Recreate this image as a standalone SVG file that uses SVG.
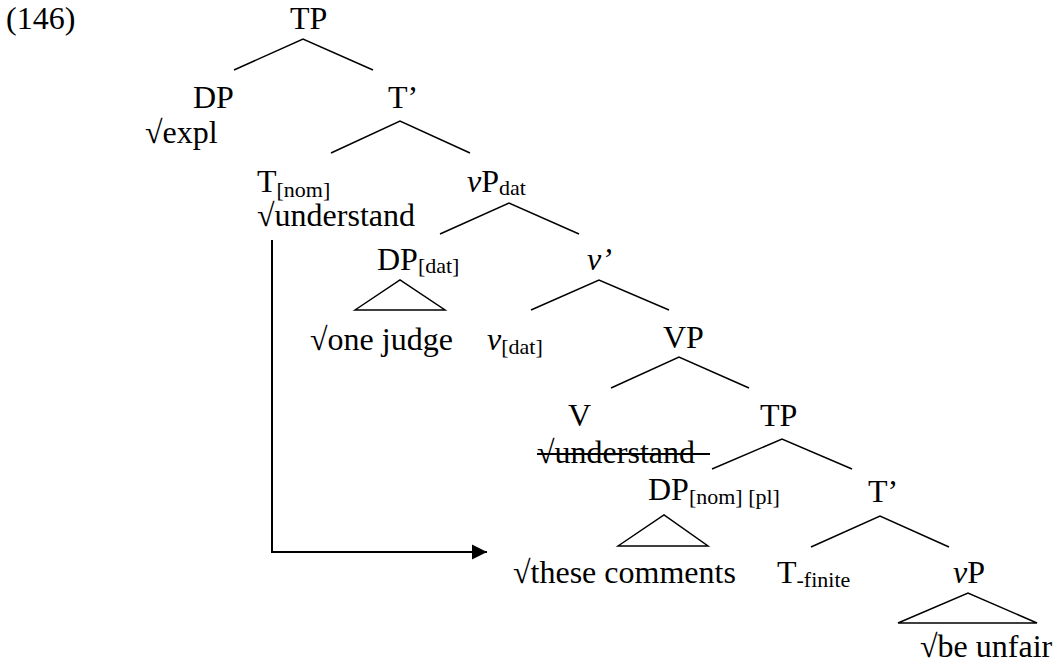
<svg xmlns="http://www.w3.org/2000/svg" width="1057" height="665" viewBox="0 0 1057 665">
<style>
text{font-family:"Liberation Serif","Times New Roman",serif;font-size:32px;fill:#000}
.s{font-size:22px}
.i{font-style:italic}
.e{stroke:#000;stroke-width:1.5;fill:none}
.a{stroke:#000;stroke-width:2;fill:none}
</style>
<defs>
<marker id="ah" markerWidth="16" markerHeight="16" viewBox="0 0 16 16" refX="15" refY="8" orient="auto" markerUnits="userSpaceOnUse">
<path d="M0,0.5 L15,8 L0,15.5 Z" fill="#000"/>
</marker>
</defs>
<rect width="1057" height="665" fill="#fff"/>
<text x="6" y="29">(146)</text>
<g id="TP1"><text x="290" y="29">TP</text></g>
<g id="DP1"><text x="193" y="108">DP</text><text x="145" y="143">√expl</text></g>
<g id="Tbar1"><text x="388" y="108">T’</text></g>
<g id="Tnom"><text x="257" y="192">T<tspan class="s" dy="5">[nom]</tspan></text><text x="257" y="226">√understand</text></g>
<g id="vPdat"><text x="467" y="192"><tspan class="i">v</tspan>P<tspan class="s" dy="3">dat</tspan></text></g>
<g id="DPdat"><text x="377" y="270">DP<tspan class="s" dy="3">[dat]</tspan></text><text x="310" y="350">√one judge</text></g>
<g id="vbar"><text x="587" y="270" class="i">v’</text></g>
<g id="vdat"><text x="487" y="350"><tspan class="i">v</tspan><tspan class="s" dy="4">[dat]</tspan></text></g>
<g id="VP"><text x="663" y="348">VP</text></g>
<g id="V"><text x="568" y="426">V</text><text x="537" y="463">√understand</text><line x1="537" y1="454" x2="710" y2="454" class="a"/></g>
<g id="TP2"><text x="760" y="426">TP</text></g>
<g id="DPnom"><text x="648" y="500">DP<tspan class="s" dy="4">[nom] [pl]</tspan></text><text x="513" y="583">√these comments</text></g>
<g id="Tbar2"><text x="868" y="502">T’</text></g>
<g id="Tfin"><text x="777" y="583">T<tspan class="s" dy="4">-finite</tspan></text></g>
<g id="vP"><text x="953" y="583"><tspan class="i">v</tspan>P</text><text x="920" y="657">√be unfair</text></g>
<g id="connectors">
<path class="e" d="M234,70 L303,39 L373,70"/>
<path class="e" d="M331,153 L400,121 L470,153"/>
<path class="e" d="M440,234 L509,203 L579,234"/>
<path class="e" d="M355,310 L400,280 L445,310 Z"/>
<path class="e" d="M531,310 L599,280 L669,310"/>
<path class="e" d="M611,388 L679,357 L749,388"/>
<path class="e" d="M712,469 L782,439 L852,469"/>
<path class="e" d="M618,546 L664,515 L708,546 Z"/>
<path class="e" d="M811,547 L880,516 L949,547"/>
<path class="e" d="M898,623 L968,593 L1037,623 Z"/>
<path class="a" d="M272,240 L272,552 L487,552" marker-end="url(#ah)"/>
</g>
</svg>
